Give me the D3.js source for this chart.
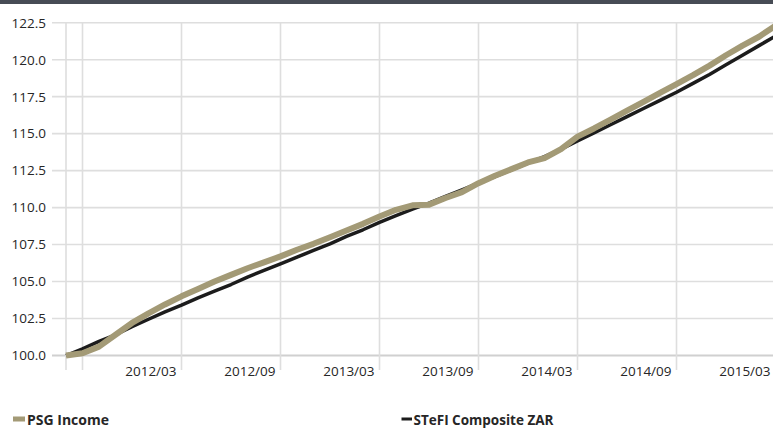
<!DOCTYPE html>
<html><head><meta charset="utf-8">
<script src="https://cdnjs.cloudflare.com/ajax/libs/d3/7.8.5/d3.min.js"></script>
<style>html,body{margin:0;padding:0;background:#fff;overflow:hidden}svg{display:block}</style>
</head><body>
<svg id="c" width="773" height="428"></svg>
<script>
const months = ["2011/08","2011/09","2011/10","2011/11","2011/12","2012/01","2012/02","2012/03","2012/04","2012/05","2012/06","2012/07","2012/08","2012/09","2012/10","2012/11","2012/12","2013/01","2013/02","2013/03","2013/04","2013/05","2013/06","2013/07","2013/08","2013/09","2013/10","2013/11","2013/12","2014/01","2014/02","2014/03","2014/04","2014/05","2014/06","2014/07","2014/08","2014/09","2014/10","2014/11","2014/12","2015/01","2015/02","2015/03"];
const psgIncome = [100.00,100.15,100.60,101.40,102.20,102.85,103.45,104.00,104.50,105.00,105.45,105.90,106.30,106.70,107.15,107.55,108.00,108.45,108.90,109.40,109.85,110.15,110.20,110.65,111.05,111.65,112.15,112.60,113.05,113.35,113.95,114.80,115.35,115.95,116.55,117.15,117.75,118.35,118.95,119.60,120.30,120.95,121.55,122.30];
const stefiZAR = [100.00,100.45,100.95,101.40,101.95,102.45,102.95,103.40,103.90,104.35,104.80,105.30,105.75,106.20,106.65,107.10,107.55,108.05,108.50,109.00,109.45,109.90,110.30,110.75,111.20,111.65,112.10,112.55,113.00,113.45,113.95,114.50,115.05,115.60,116.15,116.70,117.25,117.80,118.40,119.00,119.65,120.30,120.95,121.60];
const yTicks = [100,102.5,105,107.5,110,112.5,115,117.5,120,122.5];
const labelMonths = ["2012/03","2012/09","2013/03","2013/09","2014/03","2014/09","2015/03"];
const gridMonths = ["2011/09","2012/03","2012/09","2013/03","2013/09","2014/03","2014/09","2015/03"];
const seriesNames = ["PSG Income","STeFI Composite ZAR"];

const svg = d3.select("#c");
const font = "'Open Sans', sans-serif";
const x = d3.scaleLinear().domain([0, months.length-1]).range([66, 775.5]);
const y = d3.scaleLinear().domain([100,122.5]).range([355.5, 22.7]);

svg.append("rect").attr("x",0).attr("y",0).attr("width",773).attr("height",4).attr("fill","#474c55");

svg.append("g").selectAll("line").data(yTicks).join("line")
  .attr("x1",52).attr("x2",773).attr("y1",d=>y(d)).attr("y2",d=>y(d))
  .attr("stroke", d=> d===100 ? "#d0d0d0" : "#dedede").attr("stroke-width", d=> d===100?2.2:1.6);

const vIdx = [0].concat(gridMonths.map(m=>months.indexOf(m)));
svg.append("g").selectAll("line").data(vIdx).join("line")
  .attr("x1",d=>x(d)).attr("x2",d=>x(d)).attr("y1",y(122.5)).attr("y2",370)
  .attr("stroke","#dedede").attr("stroke-width",1.6);

svg.append("g").selectAll("text").data(yTicks).join("text")
  .attr("x",46).attr("y",d=>y(d)).attr("dy","0.36em").attr("text-anchor","end")
  .attr("font-family",font).attr("font-size",13.5).attr("fill","#262626")
  .text(d=>d3.format(".1f")(d));

svg.append("g").selectAll("text").data(labelMonths).join("text")
  .attr("x",d=>x(months.indexOf(d))-5).attr("y",376).attr("text-anchor","end")
  .attr("font-family",font).attr("font-size",13.5).attr("fill","#262626")
  .text(d=>d);

const line = d3.line().x((d,i)=>x(i)).y(d=>y(d));
svg.append("path").datum(stefiZAR).attr("d",line).attr("fill","none")
  .attr("stroke","#1c1c1c").attr("stroke-width",3.5).attr("stroke-linejoin","round");
svg.append("path").datum(psgIncome).attr("d",line).attr("fill","none")
  .attr("stroke","#a39a76").attr("stroke-width",6).attr("stroke-linejoin","round");

svg.append("rect").attr("x",13).attr("y",416.5).attr("width",12).attr("height",5).attr("fill","#a39a76");
svg.append("text").attr("x",27).attr("y",424.5).attr("font-family",font).attr("font-weight","bold")
  .attr("font-size",14).attr("fill","#262626").text(seriesNames[0]);
svg.append("rect").attr("x",401.5).attr("y",417.5).attr("width",10.5).attr("height",3).attr("fill","#1c1c1c");
svg.append("text").attr("x",413.5).attr("y",424.5).attr("font-family",font).attr("font-weight","bold")
  .attr("font-size",13.5).attr("fill","#262626").text(seriesNames[1]);
</script>
</body></html>
